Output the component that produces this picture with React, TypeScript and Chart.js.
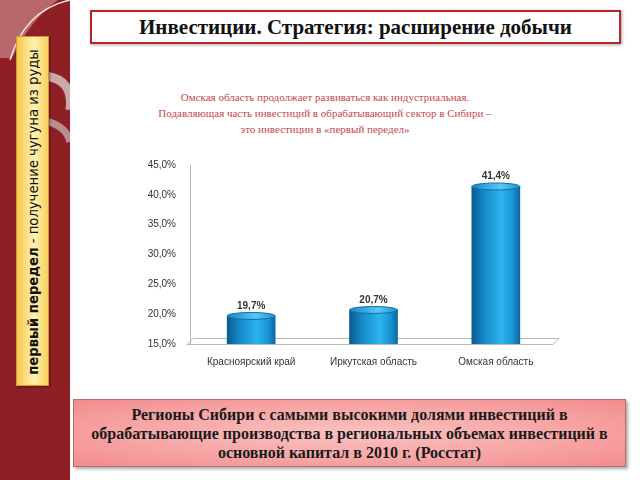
import React, { useEffect, useRef } from "react";
import { Chart, registerables } from "chart.js";

Chart.register(...registerables);

const regions = ["Красноярский край", "Иркутская область", "Омская область"];
const shares = [19.7, 20.7, 41.4];
const yMin = 15;
const yMax = 45;
const yStep = 5;

const titleText = "Инвестиции. Стратегия: расширение добычи";
const noteLines = [
  "Омская область продолжает развиваться как индустриальная.",
  "Подавляющая часть инвестиций в обрабатывающий сектор в Сибири –",
  "это инвестиции в «первый передел»",
];
const sideBold = "первый передел";
const sideRest = " - получение чугуна из руды";
const bottomLines = [
  "Регионы Сибири с самыми высокими долями инвестиций в",
  "обрабатывающие производства в региональных объемах инвестиций в",
  "основной капитал в 2010 г. (Росстат)",
];

const BAR_W = 48;
const fmt = (v: number) => v.toFixed(1).replace(".", ",") + "%";

const cylinderPlugin = {
  id: "cylinder",
  beforeDatasetsDraw(chart: any) {
    const { ctx, chartArea } = chart;
    const a = chartArea;
    ctx.save();
    ctx.strokeStyle = "#b8b8b8";
    ctx.lineWidth = 1;
    ctx.beginPath();
    ctx.moveTo(a.left - 3, a.bottom + 0.5);
    ctx.lineTo(a.right - 4, a.bottom + 0.5);
    ctx.lineTo(a.right + 2, a.bottom - 5.5);
    ctx.lineTo(a.left + 3, a.bottom - 5.5);
    ctx.lineTo(a.left - 3, a.bottom + 0.5);
    ctx.stroke();
    ctx.restore();
  },
  afterDatasetsDraw(chart: any) {
    const { ctx } = chart;
    const meta = chart.getDatasetMeta(0);
    ctx.save();
    meta.data.forEach((bar: any, i: number) => {
      const x = bar.x;
      const w = bar.width;
      const top = bar.y;
      const base = bar.base;
      const gb = ctx.createLinearGradient(x - w / 2, 0, x + w / 2, 0);
      gb.addColorStop(0, "#0a5d92");
      gb.addColorStop(0.6, "#22a6e2");
      gb.addColorStop(1, "#0b6aa6");
      ctx.fillStyle = gb;
      ctx.beginPath();
      ctx.ellipse(x, base, w / 2, 3.5, 0, 0, Math.PI);
      ctx.fill();
      const gt = ctx.createLinearGradient(x - w / 2, 0, x + w / 2, 0);
      gt.addColorStop(0, "#1b86c4");
      gt.addColorStop(0.6, "#55c8f2");
      gt.addColorStop(1, "#2193cf");
      ctx.fillStyle = gt;
      ctx.strokeStyle = "#0e6ea8";
      ctx.lineWidth = 1;
      ctx.beginPath();
      ctx.ellipse(x, top, w / 2, 3.5, 0, 0, Math.PI * 2);
      ctx.fill();
      ctx.stroke();
      ctx.fillStyle = "#333333";
      ctx.font = "bold 10px 'Liberation Sans', Arial, sans-serif";
      ctx.textAlign = "center";
      ctx.textBaseline = "bottom";
      ctx.fillText(fmt(shares[i]), x, top - 5);
    });
    ctx.restore();
  },
};

function BarChart() {
  const ref = useRef<HTMLCanvasElement>(null);
  useEffect(() => {
    if (!ref.current) return;
    const chart = new Chart(ref.current, {
      type: "bar",
      data: {
        labels: regions,
        datasets: [
          {
            data: shares,
            barThickness: BAR_W,
            borderWidth: 0,
            backgroundColor: (c: any) => {
              const ch = c.chart;
              const xs = ch.scales && ch.scales.x;
              if (!ch.chartArea || !xs || c.dataIndex === undefined) return "#1a9ad6";
              const cx = xs.getPixelForValue(c.dataIndex);
              const g = ch.ctx.createLinearGradient(cx - BAR_W / 2, 0, cx + BAR_W / 2, 0);
              g.addColorStop(0, "#0a5a8e");
              g.addColorStop(0.25, "#1688c8");
              g.addColorStop(0.62, "#2cb4ee");
              g.addColorStop(0.85, "#1a94d4");
              g.addColorStop(1, "#0c67a2");
              return g;
            },
          },
        ],
      },
      options: {
        animation: false,
        responsive: false,
        maintainAspectRatio: false,
        layout: { padding: { top: 15, right: 3, left: 0, bottom: 0 } },
        plugins: { legend: { display: false }, tooltip: { enabled: false } },
        scales: {
          x: {
            grid: { display: false },
            border: { display: false },
            ticks: {
              color: "#333333",
              padding: 4,
              font: { family: "'Liberation Sans', Arial, sans-serif", size: 10 },
              maxRotation: 0,
            },
            afterFit: (s: any) => {
              s.height = 41;
            },
          },
          y: {
            min: yMin,
            max: yMax,
            grid: { display: false },
            border: { display: true, color: "#b8b8b8" },
            ticks: {
              stepSize: yStep,
              color: "#333333",
              padding: 6,
              font: { family: "'Liberation Sans', Arial, sans-serif", size: 10 },
              callback: (v: any) => fmt(Number(v)),
            },
            afterFit: (s: any) => {
              s.width = 50;
            },
          },
        },
      },
      plugins: [cylinderPlugin],
    } as any);
    return () => chart.destroy();
  }, []);
  return <canvas ref={ref} width={420} height={235} style={{ position: "absolute", left: 140, top: 150, width: 420, height: 235 }} />;
}

export default function App() {
  return (
    <div style={{ position: "absolute", left: 0, top: 0, width: 640, height: 480, background: "#ffffff", overflow: "hidden" }}>
      <div style={{ position: "absolute", left: 0, top: 0, width: 70, height: 480, background: "#8e1f24" }} />
      <svg width={70} height={480} style={{ position: "absolute", left: 0, top: 0 }}>
        <path d="M0,0 L58,0 Q30,20 12,58 L0,58 Z" fill="#b8686b" />
        <path d="M10,60 Q25,10 70,0" fill="none" stroke="#f2e2e2" strokeWidth={1.5} />
        <path d="M46,76 Q74,80 70,110" fill="none" stroke="#c9a9aa" strokeWidth={9} />
        <path d="M40,120 Q66,124 70,142" fill="none" stroke="#b98e90" strokeWidth={7} />
      </svg>
      <div
        style={{
          position: "absolute",
          left: 16,
          top: 36,
          width: 33,
          height: 350,
          boxSizing: "border-box",
          border: "1px solid #d59a2a",
          background: "linear-gradient(to right, #f6c94f, #fff2b0 55%, #f7cf5c)",
          boxShadow: "1px 1px 2px rgba(0,0,0,0.4)",
        }}
      >
        <div
          style={{
            position: "absolute",
            left: 16,
            top: 175,
            transform: "translate(-50%, -50%) rotate(-90deg)",
            whiteSpace: "nowrap",
            fontFamily: "'DejaVu Sans', 'Open Sans', sans-serif",
            fontSize: 13.2,
            color: "#111",
          }}
        >
          <b>{sideBold}</b>
          {sideRest}
        </div>
      </div>

      <div
        style={{
          position: "absolute",
          left: 90,
          top: 10,
          width: 531,
          height: 34,
          boxSizing: "border-box",
          border: "2px solid #b3262c",
          background: "#fff",
          boxShadow: "1px 1px 3px rgba(0,0,0,0.35)",
          display: "flex",
          alignItems: "center",
          justifyContent: "center",
          fontFamily: "'Liberation Serif', 'Times New Roman', serif",
          fontWeight: "bold",
          fontSize: 21,
          color: "#111",
        }}
      >
        {titleText}
      </div>

      <div
        style={{
          position: "absolute",
          left: 125,
          top: 89,
          width: 400,
          textAlign: "center",
          fontFamily: "'Liberation Serif', 'Times New Roman', serif",
          fontSize: 11,
          lineHeight: "16px",
          color: "#c8454e",
        }}
      >
        {noteLines.map((l, i) => (
          <div key={i}>{l}</div>
        ))}
      </div>

      <BarChart />

      <div
        style={{
          position: "absolute",
          left: 73,
          top: 399,
          width: 553,
          height: 68,
          boxSizing: "border-box",
          border: "1px solid #b07070",
          background: "radial-gradient(ellipse at center, #fbc2c2 0%, #f7a3a3 60%, #f28c8c 100%)",
          boxShadow: "2px 2px 3px rgba(0,0,0,0.35)",
          display: "flex",
          flexDirection: "column",
          alignItems: "center",
          justifyContent: "center",
          fontFamily: "'Liberation Serif', 'Times New Roman', serif",
          fontWeight: "bold",
          fontSize: 16,
          lineHeight: "19px",
          color: "#1a1a1a",
        }}
      >
        {bottomLines.map((l, i) => (
          <div key={i}>{l}</div>
        ))}
      </div>
    </div>
  );
}
